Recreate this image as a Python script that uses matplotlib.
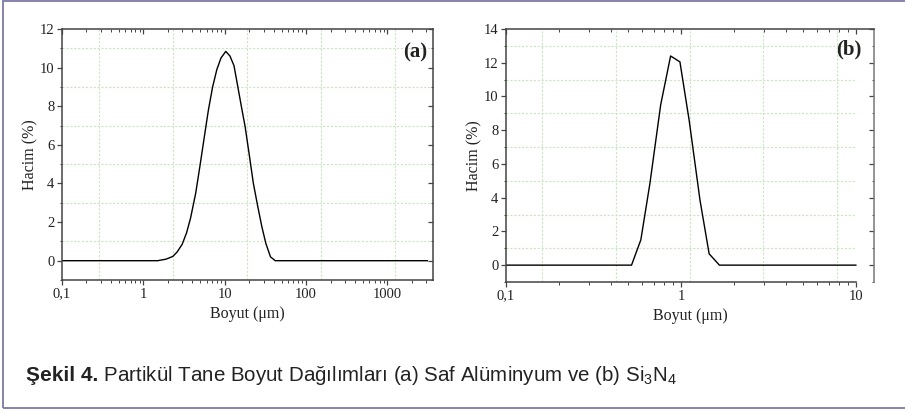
import numpy as np
import matplotlib
matplotlib.use('Agg')
import matplotlib.pyplot as plt
from matplotlib.ticker import FixedLocator, FixedFormatter, LogLocator, NullFormatter, MultipleLocator
from matplotlib.patches import Rectangle

# (a) Saf Aluminyum - boyut (um) ve hacim (%)
boyut_a = [0.1, 1.5, 1.9, 2.3, 2.6, 3.0, 3.4, 3.8, 4.4, 5.0, 5.7, 6.3, 7.1, 8.0, 9.0,
           10.3, 11.6, 13.0, 14.5, 16.0, 17.8, 20.0, 22.5, 25.5, 28.6, 32.0, 36.5, 41.7, 3100]
hacim_a = [0, 0, 0.08, 0.22, 0.45, 0.85, 1.45, 2.2, 3.5, 5.0, 6.6, 7.8, 9.0, 9.9, 10.5,
           10.84, 10.6, 10.1, 9.0, 8.0, 6.95, 5.5, 4.0, 2.8, 1.76, 0.9, 0.2, 0, 0]

# (b) Si3N4
boyut_b = [0.1, 0.522, 0.59, 0.665, 0.766, 0.873, 0.987, 1.114, 1.285, 1.45, 1.66, 10]
hacim_b = [0, 0, 1.5, 4.85, 9.5, 12.4, 12.05, 8.6, 3.86, 0.67, 0, 0]

xticks_a = [0.1, 1, 10, 100, 1000]
xlabels_a = ['0,1', '1', '10', '100', '1000']
xticks_b = [0.1, 1, 10]
xlabels_b = ['0,1', '1', '10']

baslik = 'Şekil 4.'
aciklama = r' Partikül Tane Boyut Dağılımları (a) Saf Alüminyum ve (b) Si$_\mathregular{3}$N$_\mathregular{4}$'

plt.rcParams['font.family'] = ['Liberation Serif', 'DejaVu Serif']
plt.rcParams['mathtext.default'] = 'regular'

grid_col = '#c9e6c3'
spine_col = '#444444'
txt_col = '#222222'

fig = plt.figure(figsize=(9.05, 4.12), dpi=100)

# cerceve
fig.patches.append(Rectangle((2.5 / 905, 1 - 408 / 412), 905 / 905, 407 / 412,
                             transform=fig.transFigure, fill=False,
                             edgecolor='#7d79a6', linewidth=1.3, zorder=10))

ax1 = fig.add_axes([62 / 905, 1 - 280 / 412, 371 / 905, 251 / 412])
ax2 = fig.add_axes([506 / 905, 1 - 282 / 412, 368 / 905, 253 / 412])


def style_axes(ax, xmax, ymax, xticks, xlabels, vgrid, hgrid_end):
    ax.set_xscale('log')
    ax.set_xlim(0.1, xmax)
    ax.set_ylim(-1, ymax)
    for v in vgrid:
        ax.axvline(v, color=grid_col, lw=0.8, ls=(0, (2, 1.5)), zorder=0)
    for h in range(1, ymax, 2):
        ax.hlines(h, 0.1, hgrid_end, color=grid_col, lw=0.8, ls=(0, (2, 1.5)), zorder=0)
    ax.xaxis.set_major_locator(FixedLocator(xticks))
    ax.xaxis.set_major_formatter(FixedFormatter(xlabels))
    ax.xaxis.set_minor_locator(LogLocator(base=10, subs=np.arange(2, 10)))
    ax.xaxis.set_minor_formatter(NullFormatter())
    ax.yaxis.set_major_locator(MultipleLocator(2))
    ax.yaxis.set_minor_locator(MultipleLocator(1))
    ax.set_yticks(range(0, ymax + 1, 2))
    ax.tick_params(which='major', direction='out', length=3.5, width=0.9, color=spine_col,
                   labelsize=10.5, labelcolor=txt_col, pad=2, top=True, right=True)
    ax.tick_params(which='minor', direction='out', length=1.8, width=0.7, color=spine_col,
                   top=True, right=True)
    for s in ax.spines.values():
        s.set_color(spine_col)
        s.set_linewidth(1.1)
    ax.set_xlabel('Boyut (μm)', fontsize=11.5, color=txt_col, labelpad=4)
    ax.set_ylabel('Hacim (%)', fontsize=11.5, color=txt_col, labelpad=1)


style_axes(ax1, 3630, 12, xticks_a, xlabels_a, [0.285, 2.32, 18.8, 153, 1248], 3630)
style_axes(ax2, 12.7, 14, xticks_b, xlabels_b, [0.161, 0.427, 1.125, 2.94, 7.78], 10)
ax2.spines['bottom'].set_bounds(0.1, 10)
ax2.spines['right'].set_color('#777777')

# top / right ticks point inward
for ax in (ax1, ax2):
    for t in ax.xaxis.get_major_ticks() + ax.xaxis.get_minor_ticks():
        t.tick2line.set_marker(3)
    for t in ax.yaxis.get_major_ticks() + ax.yaxis.get_minor_ticks():
        t.tick2line.set_marker(0)

ax1.plot(boyut_a, hacim_a, color='black', lw=1.0)
ax2.plot(boyut_b, hacim_b, color='black', lw=1.0)

ax1.text(0.985, 0.905, '(a)', transform=ax1.transAxes, ha='right', va='center',
         fontsize=15, fontweight='bold', color=txt_col)
ax2.text(0.965, 0.92, '(b)', transform=ax2.transAxes, ha='right', va='center',
         fontsize=15, fontweight='bold', color=txt_col)

# alt yazi
cap_font = ['Liberation Sans Narrow', 'Liberation Sans']
t1 = fig.text(26 / 905, 1 - 381 / 412, baslik, fontsize=15, fontweight='bold',
              family=cap_font, color='#222222', va='baseline', ha='left')
fig.canvas.draw()
bb = t1.get_window_extent()
fig.text(bb.x1 / 905, 1 - 381 / 412, aciklama, fontsize=14.8, family=cap_font,
         color='#222222', va='baseline', ha='left')

fig.savefig('out.png', dpi=100)
